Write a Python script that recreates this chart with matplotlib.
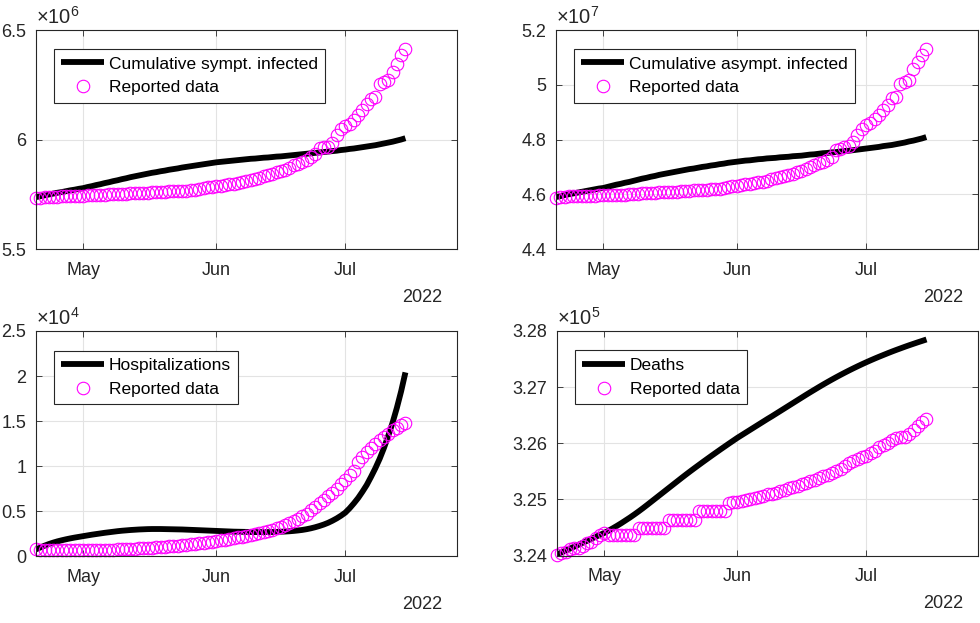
import numpy as np
import matplotlib
matplotlib.use('Agg')
import matplotlib.pyplot as plt
import matplotlib.dates as mdates
from matplotlib.ticker import FuncFormatter

plt.rcParams['font.family'] = ['Liberation Sans', 'DejaVu Sans']
plt.rcParams['mathtext.fontset'] = 'custom'
plt.rcParams['mathtext.rm'] = 'Liberation Sans'
plt.rcParams['font.size'] = 13

# daily values, 2022-04-20 .. 2022-07-15
start_date = '2022-04-20'
n_days = 87

# cumulative symptomatic infected (x 1e6)
sympt_model = [5.737, 5.741, 5.745, 5.749, 5.753, 5.757, 5.760, 5.764, 5.768, 5.771,
               5.775, 5.778, 5.783, 5.787, 5.792, 5.796, 5.801, 5.805, 5.810, 5.814,
               5.819, 5.823, 5.828, 5.832, 5.836, 5.840, 5.844, 5.848, 5.851, 5.855,
               5.858, 5.862, 5.865, 5.868, 5.872, 5.875, 5.878, 5.881, 5.884, 5.887,
               5.890, 5.893, 5.896, 5.898, 5.900, 5.902, 5.904, 5.906, 5.908, 5.910,
               5.912, 5.913, 5.915, 5.917, 5.918, 5.920, 5.922, 5.923, 5.925, 5.927,
               5.929, 5.931, 5.933, 5.935, 5.937, 5.939, 5.941, 5.943, 5.945, 5.947,
               5.949, 5.952, 5.954, 5.957, 5.959, 5.962, 5.965, 5.968, 5.971, 5.974,
               5.978, 5.982, 5.986, 5.990, 5.995, 6.000, 6.006]
sympt_data = [5.733, 5.735, 5.736, 5.737, 5.738, 5.739, 5.740, 5.741, 5.742, 5.742,
              5.743, 5.744, 5.745, 5.746, 5.746, 5.747, 5.748, 5.749, 5.750, 5.751,
              5.752, 5.753, 5.754, 5.755, 5.756, 5.757, 5.758, 5.759, 5.760, 5.761,
              5.762, 5.763, 5.764, 5.765, 5.766, 5.767, 5.768, 5.770, 5.774, 5.778,
              5.781, 5.784, 5.787, 5.790, 5.793, 5.796, 5.799, 5.802, 5.806, 5.810,
              5.815, 5.820, 5.826, 5.832, 5.838, 5.844, 5.850, 5.856, 5.862, 5.872,
              5.882, 5.890, 5.897, 5.908, 5.920, 5.935, 5.960, 5.965, 5.968, 5.985,
              6.020, 6.050, 6.062, 6.073, 6.090, 6.110, 6.135, 6.160, 6.185, 6.192,
              6.255, 6.262, 6.272, 6.310, 6.345, 6.385, 6.412]

# cumulative asymptomatic infected (x 1e7)
asympt_model = [4.590, 4.593, 4.597, 4.600, 4.603, 4.606, 4.609, 4.612, 4.615, 4.618,
                4.621, 4.623, 4.627, 4.631, 4.635, 4.638, 4.642, 4.645, 4.649, 4.653,
                4.657, 4.660, 4.664, 4.667, 4.671, 4.674, 4.677, 4.680, 4.683, 4.686,
                4.689, 4.692, 4.694, 4.697, 4.700, 4.702, 4.705, 4.707, 4.710, 4.712,
                4.715, 4.717, 4.719, 4.721, 4.723, 4.724, 4.726, 4.728, 4.729, 4.731,
                4.732, 4.733, 4.735, 4.736, 4.737, 4.739, 4.740, 4.741, 4.743, 4.745,
                4.746, 4.748, 4.750, 4.751, 4.753, 4.754, 4.756, 4.758, 4.759, 4.761,
                4.763, 4.765, 4.767, 4.769, 4.771, 4.773, 4.776, 4.778, 4.780, 4.783,
                4.786, 4.789, 4.793, 4.796, 4.800, 4.804, 4.809]
asympt_data = [4.588, 4.590, 4.591, 4.592, 4.593, 4.593, 4.594, 4.594, 4.595, 4.595,
               4.596, 4.596, 4.597, 4.597, 4.598, 4.599, 4.599, 4.600, 4.601, 4.602,
               4.603, 4.604, 4.605, 4.606, 4.607, 4.608, 4.609, 4.609, 4.610, 4.611,
               4.612, 4.613, 4.614, 4.615, 4.616, 4.617, 4.618, 4.619, 4.621, 4.624,
               4.627, 4.630, 4.632, 4.634, 4.636, 4.638, 4.640, 4.643, 4.646, 4.650,
               4.654, 4.658, 4.662, 4.666, 4.670, 4.675, 4.680, 4.685, 4.692, 4.700,
               4.708, 4.714, 4.719, 4.726, 4.737, 4.760, 4.767, 4.772, 4.776, 4.790,
               4.815, 4.840, 4.852, 4.862, 4.876, 4.890, 4.907, 4.925, 4.950, 4.955,
               5.004, 5.010, 5.017, 5.058, 5.082, 5.107, 5.131]

# hospitalizations (x 1e4)
hosp_model = [0.074, 0.095, 0.115, 0.133, 0.149, 0.163, 0.175, 0.186, 0.196, 0.205,
              0.213, 0.221, 0.229, 0.237, 0.244, 0.251, 0.258, 0.264, 0.270, 0.276,
              0.281, 0.285, 0.289, 0.292, 0.295, 0.297, 0.299, 0.300, 0.300, 0.300,
              0.299, 0.298, 0.297, 0.296, 0.295, 0.293, 0.291, 0.289, 0.287, 0.285,
              0.283, 0.281, 0.279, 0.277, 0.275, 0.273, 0.271, 0.270, 0.269, 0.268,
              0.267, 0.266, 0.266, 0.266, 0.266, 0.267, 0.268, 0.270, 0.272, 0.275,
              0.279, 0.284, 0.290, 0.298, 0.308, 0.320, 0.334, 0.350, 0.369, 0.392,
              0.418, 0.448, 0.482, 0.530, 0.585, 0.645, 0.715, 0.790, 0.880, 0.975,
              1.080, 1.200, 1.335, 1.480, 1.645, 1.830, 2.040]
hosp_data = [0.075, 0.072, 0.070, 0.068, 0.067, 0.066, 0.065, 0.064, 0.064, 0.063,
             0.063, 0.064, 0.064, 0.065, 0.066, 0.067, 0.068, 0.070, 0.072, 0.074,
             0.076, 0.078, 0.080, 0.082, 0.085, 0.088, 0.091, 0.094, 0.097, 0.100,
             0.104, 0.108, 0.112, 0.116, 0.120, 0.125, 0.130, 0.135, 0.141, 0.147,
             0.153, 0.160, 0.167, 0.175, 0.183, 0.191, 0.199, 0.207, 0.216, 0.225,
             0.235, 0.245, 0.256, 0.268, 0.280, 0.293, 0.308, 0.325, 0.344, 0.365,
             0.388, 0.413, 0.440, 0.472, 0.507, 0.545, 0.585, 0.625, 0.665, 0.705,
             0.748, 0.795, 0.845, 0.895, 0.950, 1.040, 1.100, 1.155, 1.200, 1.245,
             1.290, 1.325, 1.360, 1.395, 1.425, 1.452, 1.476]

# deaths (x 1e5)
death_model = [3.2402, 3.24055, 3.2409, 3.24125, 3.2416, 3.24195, 3.2423, 3.24265, 3.2430, 3.24335,
               3.2437, 3.24405, 3.24445, 3.24488, 3.24533, 3.2458, 3.2463, 3.2468, 3.24733, 3.24788,
               3.24845, 3.24904, 3.24964, 3.25024, 3.25084, 3.25144, 3.25204, 3.25264, 3.25324, 3.25384,
               3.25443, 3.25501, 3.25558, 3.25614, 3.2567, 3.25725, 3.2578, 3.25834, 3.25888, 3.25941,
               3.25994, 3.26046, 3.26098, 3.26146, 3.26194, 3.26242, 3.2629, 3.26338, 3.26386, 3.26434,
               3.2648, 3.26528, 3.26576, 3.26624, 3.26672, 3.2672, 3.26768, 3.26816, 3.26864, 3.26911,
               3.26957, 3.27003, 3.27048, 3.27092, 3.27135, 3.27177, 3.27218, 3.27258, 3.27297, 3.27335,
               3.27372, 3.27408, 3.27443, 3.27477, 3.2751, 3.27542, 3.27573, 3.27604, 3.27634, 3.27663,
               3.27691, 3.27719, 3.27746, 3.27772, 3.27798, 3.27823, 3.27848]
death_data = [3.2402, 3.2404, 3.2407, 3.2411, 3.2413, 3.2414, 3.2418, 3.2422, 3.2425, 3.2432,
              3.2437, 3.2440, 3.2436, 3.2436, 3.2436, 3.2436, 3.2436, 3.2436, 3.2436, 3.2450,
              3.2450, 3.2450, 3.2450, 3.2450, 3.2450, 3.2450, 3.2464, 3.2464, 3.2464, 3.2464,
              3.2464, 3.2464, 3.2464, 3.2480, 3.2480, 3.2480, 3.2480, 3.2480, 3.2480, 3.2480,
              3.2494, 3.2495, 3.2496, 3.2497, 3.2499, 3.2501, 3.2503, 3.2505, 3.2507, 3.2509,
              3.2510, 3.2512, 3.2515, 3.2517, 3.2520, 3.2522, 3.2524, 3.2527, 3.2530, 3.2533,
              3.2535, 3.2538, 3.2541, 3.2544, 3.2548, 3.2551, 3.2555, 3.2560, 3.2565, 3.2568,
              3.2572, 3.2575, 3.2578, 3.2582, 3.2587, 3.2593, 3.2597, 3.2601, 3.2605, 3.2609,
              3.2611, 3.2612, 3.2616, 3.2623, 3.2630, 3.2638, 3.2644]

dates = np.datetime64(start_date) + np.arange(n_days)
xlim = (np.datetime64('2022-04-20'), np.datetime64('2022-07-27'))

axcol = '#262626'


def panel(ax, model, data, expo, label, yticks):
    scale = 10.0 ** expo
    ax.plot(dates, np.array(model) * scale, color='k', lw=4.2, label=label,
            solid_capstyle='butt')
    ax.plot(dates, np.array(data) * scale, 'o', mfc='none', mec=(1, 0, 1),
            ms=9, mew=0.8, label='Reported data', clip_on=False)

    ax.set_xlim(xlim)
    ax.set_ylim(yticks[0] * scale, yticks[-1] * scale)
    ax.set_yticks([t * scale for t in yticks])
    ax.yaxis.set_major_formatter(FuncFormatter(lambda v, p: '%g' % round(v / scale, 4)))
    ax.xaxis.set_major_locator(mdates.MonthLocator(bymonth=[5, 6, 7]))
    ax.xaxis.set_major_formatter(mdates.DateFormatter('%b'))

    ax.grid(True, color='#e3e3e3', lw=0.8)
    ax.set_axisbelow(True)
    ax.tick_params(direction='in', top=True, right=True, length=4, width=0.6,
                   colors=axcol, labelsize=13)
    ax.tick_params(axis='x', pad=9)
    ax.tick_params(axis='y', pad=7)
    for s in ax.spines.values():
        s.set_color(axcol)
        s.set_linewidth(0.8)

    ax.text(0.0, 1.008, '×10$^{\\mathregular{%d}}$' % expo, transform=ax.transAxes,
            ha='left', va='bottom', color=axcol, fontsize=14.5)
    ax.annotate('2022', xy=(1, 0), xycoords='axes fraction', xytext=(-15, -48),
                textcoords='offset pixels', ha='right', va='center',
                color=axcol, fontsize=13)

    leg = ax.legend(loc='upper left', bbox_to_anchor=(0.043, 0.913), borderaxespad=0,
                    fancybox=False, framealpha=1, edgecolor=axcol, fontsize=12.5,
                    handlelength=2.45, handletextpad=0.28, labelspacing=0.5,
                    borderpad=0.42)
    leg.get_frame().set_linewidth(0.8)


fig = plt.figure(figsize=(9.8, 6.23), dpi=100)
ax1 = fig.add_axes([0.0367, 0.6003, 0.4296, 0.3515])
ax2 = fig.add_axes([0.5673, 0.6003, 0.4306, 0.3515])
ax3 = fig.add_axes([0.0367, 0.1075, 0.4296, 0.3612])
ax4 = fig.add_axes([0.5684, 0.1081, 0.4296, 0.3607])

panel(ax1, sympt_model, sympt_data, 6, 'Cumulative sympt. infected', [5.5, 6.0, 6.5])
panel(ax2, asympt_model, asympt_data, 7, 'Cumulative asympt. infected', [4.4, 4.6, 4.8, 5.0, 5.2])
panel(ax3, hosp_model, hosp_data, 4, 'Hospitalizations', [0, 0.5, 1.0, 1.5, 2.0, 2.5])
panel(ax4, death_model, death_data, 5, 'Deaths', [3.24, 3.25, 3.26, 3.27, 3.28])

fig.savefig('out.png', dpi=100)
